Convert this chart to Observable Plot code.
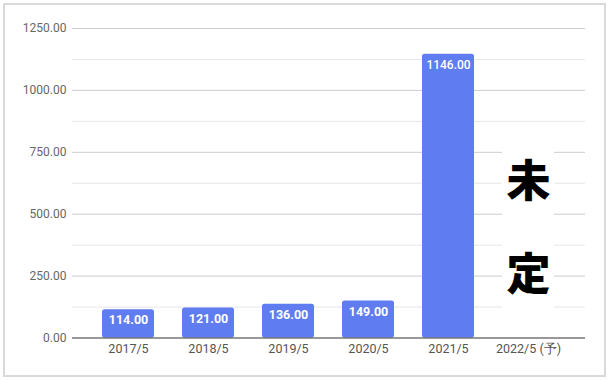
<!DOCTYPE html>
<html>
<head>
<meta charset="utf-8">
<script src="https://cdn.jsdelivr.net/npm/d3@7"></script>
<script src="https://cdn.jsdelivr.net/npm/@observablehq/plot@0.6"></script>
<style>
  html, body { margin: 0; padding: 0; background: #fff; }
  #wrap { position: relative; width: 609px; height: 380px; overflow: hidden; }
  #frame { position: absolute; left: 3px; top: 3px; width: 599px; height: 370px; border: 2px solid #d9d9d9; box-sizing: content-box; pointer-events: none; }
  #chart { position: absolute; left: 0; top: 0; }
</style>
</head>
<body>
<div id="wrap"><div id="chart"></div><div id="frame"></div></div>
<script>
const categories = ["2017/5", "2018/5", "2019/5", "2020/5", "2021/5", "2022/5 (予)"];
const values = [114, 121, 136, 149, 1146, null];
const majorTicks = [0, 250, 500, 750, 1000, 1250];
const minorTicks = [125, 375, 625, 875, 1125];
const pendingCategory = "2022/5 (予)";
const pendingLabel = "未\n定";
const pendingBox = [50, 860];
const pendingTextValue = 501;

const data = categories.map((c, i) => ({category: c, value: values[i]}))
  .filter(d => d.value != null);

const fmt = d3.format(".2f");
const font = "Roboto, 'Noto Sans', sans-serif";

const plot = Plot.plot({
  width: 609,
  height: 380,
  marginTop: 28,
  marginBottom: 42.5,
  marginLeft: 72,
  marginRight: 24,
  style: {fontFamily: font, background: "transparent"},
  x: {domain: categories, paddingInner: 0.344, paddingOuter: 0.36, label: null},
  y: {domain: [0, 1250], label: null},
  marks: [
    Plot.ruleY(minorTicks, {stroke: "#e6e6e6", strokeWidth: 1}),
    Plot.ruleY(majorTicks.filter(t => t > 0), {stroke: "#cccccc", strokeWidth: 1}),
    Plot.axisY({ticks: majorTicks, tickFormat: fmt, tickSize: 0, tickPadding: 6, fill: "#666", fontSize: 12, label: null}),
    Plot.axisX({tickSize: 0, tickPadding: 6, fill: "#555", fontSize: 12.5, label: null}),
    Plot.barY(data, {x: "category", y: "value", fill: "#5f7cf0", rx: 2.5}),
    Plot.text(data.filter(d => d.value < 1000), {x: "category", y: "value", text: d => fmt(d.value), dy: 10.5, fill: "white", fontSize: 12.5, fontWeight: "bold"}),
    Plot.text(data.filter(d => d.value >= 1000), {x: "category", y: "value", text: d => fmt(d.value), dy: 10.5, fill: "white", fontSize: 12, fontWeight: "500"}),
    Plot.barY([pendingCategory], {x: d => d, y1: pendingBox[0], y2: pendingBox[1], fill: "white"}),
    Plot.text([pendingCategory], {x: d => d, y: pendingTextValue, text: () => pendingLabel, lineHeight: 2.1, fontSize: 44, fontWeight: "900", fill: "black", fontFamily: "'Noto Sans CJK JP', sans-serif"}),
    Plot.ruleY([0], {stroke: "#333", strokeWidth: 1.2})
  ]
});
document.getElementById("chart").appendChild(plot);
</script>
</body>
</html>
